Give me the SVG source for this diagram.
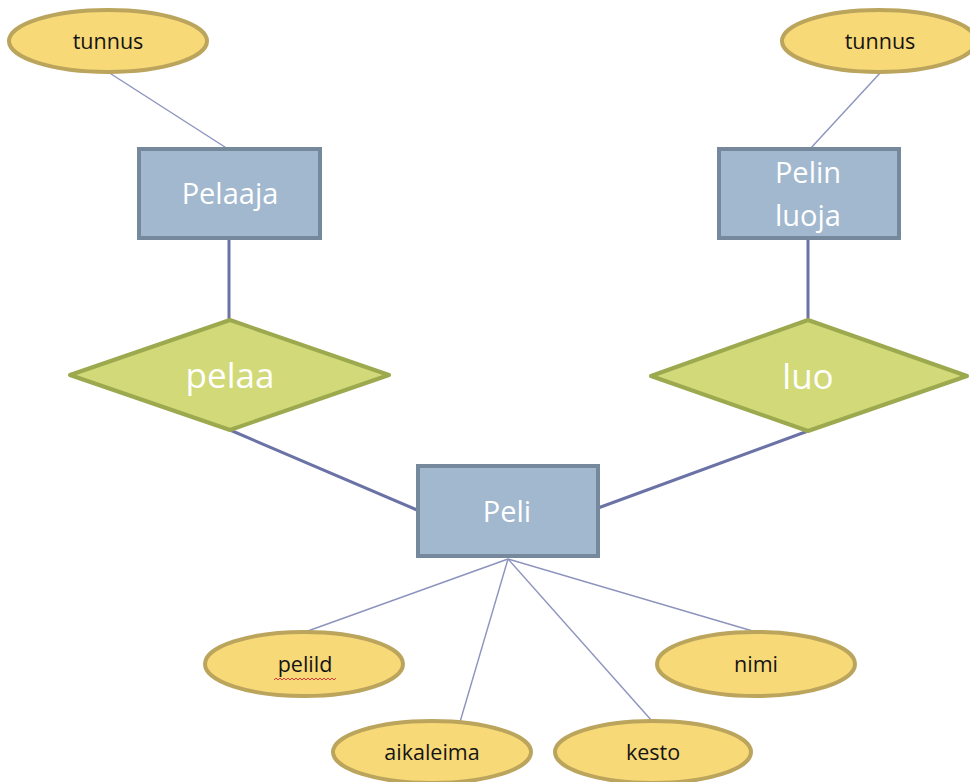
<svg xmlns="http://www.w3.org/2000/svg" width="970" height="782" viewBox="0 0 970 782">
  <style>
    .attr ellipse { fill: #f8d978; stroke: #bba45c; stroke-width: 4; }
    .attr text { font-family: "Open Sans", "Noto Sans", sans-serif; font-size: 21.5px; fill: #141414; text-anchor: middle; }
    .ent rect { fill: #a1b8cf; stroke: #75889c; stroke-width: 4; }
    .ent text { font-family: "Open Sans", "Noto Sans", sans-serif; font-size: 29px; fill: #ffffff; text-anchor: middle; }
    .rel polygon { fill: #d2d978; stroke: #9ca94e; stroke-width: 4; stroke-linejoin: round; }
    .rel text { font-family: "Open Sans", "Noto Sans", sans-serif; font-size: 35px; fill: #ffffff; text-anchor: middle; }
    .thin { stroke: #8c93bd; stroke-width: 1.4; fill: none; }
    .thick { stroke: #6a72a6; stroke-width: 3; fill: none; }
  </style>

  <!-- connectors -->
  <g id="connectors">
    <line class="thin" x1="108" y1="72" x2="228" y2="149"/>
    <line class="thin" x1="881" y1="72" x2="810" y2="149"/>
    <line class="thick" x1="229" y1="238" x2="229" y2="320"/>
    <line class="thick" x1="808" y1="238" x2="808" y2="320"/>
    <line class="thick" x1="230" y1="430" x2="417" y2="510"/>
    <line class="thick" x1="808" y1="431" x2="598" y2="508"/>
    <line class="thin" x1="508" y1="559" x2="305" y2="632"/>
    <line class="thin" x1="508" y1="559" x2="460" y2="722"/>
    <line class="thin" x1="508" y1="559" x2="652" y2="721"/>
    <line class="thin" x1="508" y1="559" x2="756" y2="632"/>
  </g>

  <!-- attributes -->
  <g id="attr-tunnus-pelaaja" class="attr">
    <ellipse cx="108" cy="41" rx="99" ry="31"/>
    <text x="108" y="49">tunnus</text>
  </g>
  <g id="attr-tunnus-luoja" class="attr">
    <ellipse cx="879" cy="41" rx="97" ry="31"/>
    <text x="880" y="49">tunnus</text>
  </g>
  <g id="attr-pelild" class="attr">
    <ellipse cx="304" cy="664" rx="99" ry="32"/>
    <text x="305" y="672">pelild</text>
    <!-- spell-check squiggle -->
    <polyline points="274,680 276,678 278,680 280,678 282,680 284,678 286,680 288,678 290,680 292,678 294,680 296,678 298,680 300,678 302,680 304,678 306,680 308,678 310,680 312,678 314,680 316,678 318,680 320,678 322,680 324,678 326,680 328,678 330,680 332,678 334,680 336,678" fill="none" stroke="#e23b3b" stroke-width="1"/>
  </g>
  <g id="attr-aikaleima" class="attr">
    <ellipse cx="432" cy="752" rx="99" ry="31"/>
    <text x="432" y="760">aikaleima</text>
  </g>
  <g id="attr-kesto" class="attr">
    <ellipse cx="653" cy="752" rx="98" ry="31"/>
    <text x="653" y="760">kesto</text>
  </g>
  <g id="attr-nimi" class="attr">
    <ellipse cx="756" cy="664" rx="99" ry="32"/>
    <text x="756" y="672">nimi</text>
  </g>

  <!-- entities -->
  <g id="ent-pelaaja" class="ent">
    <rect x="139" y="149" width="181" height="89"/>
    <text x="230" y="204">Pelaaja</text>
  </g>
  <g id="ent-pelin-luoja" class="ent">
    <rect x="719" y="149" width="180" height="89"/>
    <text x="808" y="183">Pelin</text>
    <text x="808" y="226">luoja</text>
  </g>
  <g id="ent-peli" class="ent">
    <rect x="418" y="466" width="180" height="90"/>
    <text x="507" y="522">Peli</text>
  </g>

  <!-- relationships -->
  <g id="rel-pelaa" class="rel">
    <polygon points="230,320 389,375 230,430 70,375"/>
    <text x="230" y="388">pelaa</text>
  </g>
  <g id="rel-luo" class="rel">
    <polygon points="808,320 967,376 808,431 651,376"/>
    <text x="808" y="389">luo</text>
  </g>
</svg>
